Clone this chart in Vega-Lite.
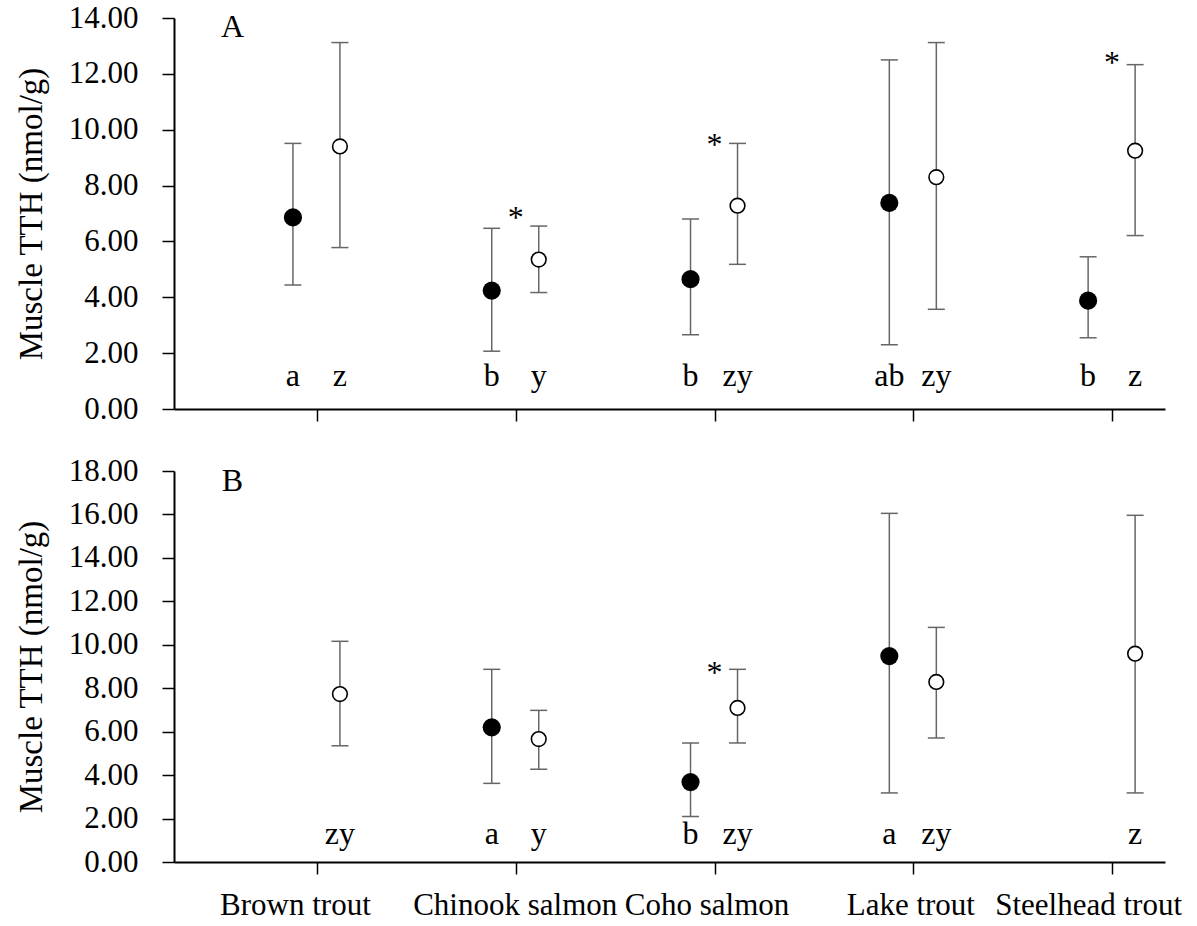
{
  "$schema": "https://vega.github.io/schema/vega-lite/v6.json",
  "padding": {"left": 15, "top": 2, "right": 0, "bottom": 0},
  "spacing": 31,
  "datasets": {
    "pts": [
      {"panel": "A", "species": "Brown trout", "idx": 1, "group": "filled", "mean": 6.86, "lo": 4.44, "hi": 9.51, "letter": "a"},
      {"panel": "A", "species": "Brown trout", "idx": 1, "group": "open", "mean": 9.40, "lo": 5.78, "hi": 13.12, "letter": "z"},
      {"panel": "A", "species": "Chinook salmon", "idx": 2, "group": "filled", "mean": 4.24, "lo": 2.07, "hi": 6.47, "letter": "b"},
      {"panel": "A", "species": "Chinook salmon", "idx": 2, "group": "open", "mean": 5.35, "lo": 4.17, "hi": 6.55, "letter": "y"},
      {"panel": "A", "species": "Coho salmon", "idx": 3, "group": "filled", "mean": 4.65, "lo": 2.66, "hi": 6.80, "letter": "b"},
      {"panel": "A", "species": "Coho salmon", "idx": 3, "group": "open", "mean": 7.28, "lo": 5.18, "hi": 9.51, "letter": "zy"},
      {"panel": "A", "species": "Lake trout", "idx": 4, "group": "filled", "mean": 7.38, "lo": 2.30, "hi": 12.50, "letter": "ab"},
      {"panel": "A", "species": "Lake trout", "idx": 4, "group": "open", "mean": 8.30, "lo": 3.57, "hi": 13.12, "letter": "zy"},
      {"panel": "A", "species": "Steelhead trout", "idx": 5, "group": "filled", "mean": 3.88, "lo": 2.55, "hi": 5.45, "letter": "b"},
      {"panel": "A", "species": "Steelhead trout", "idx": 5, "group": "open", "mean": 9.25, "lo": 6.21, "hi": 12.33, "letter": "z"},
      {"panel": "B", "species": "Brown trout", "idx": 1, "group": "open", "mean": 7.73, "lo": 5.35, "hi": 10.16, "letter": "zy"},
      {"panel": "B", "species": "Chinook salmon", "idx": 2, "group": "filled", "mean": 6.20, "lo": 3.62, "hi": 8.87, "letter": "a"},
      {"panel": "B", "species": "Chinook salmon", "idx": 2, "group": "open", "mean": 5.66, "lo": 4.27, "hi": 6.98, "letter": "y"},
      {"panel": "B", "species": "Coho salmon", "idx": 3, "group": "filled", "mean": 3.68, "lo": 2.10, "hi": 5.48, "letter": "b"},
      {"panel": "B", "species": "Coho salmon", "idx": 3, "group": "open", "mean": 7.09, "lo": 5.48, "hi": 8.87, "letter": "zy"},
      {"panel": "B", "species": "Lake trout", "idx": 4, "group": "filled", "mean": 9.48, "lo": 3.18, "hi": 16.05, "letter": "a"},
      {"panel": "B", "species": "Lake trout", "idx": 4, "group": "open", "mean": 8.29, "lo": 5.71, "hi": 10.80, "letter": "zy"},
      {"panel": "B", "species": "Steelhead trout", "idx": 5, "group": "open", "mean": 9.59, "lo": 3.18, "hi": 15.96, "letter": "z"}
    ],
    "stars": [
      {"panel": "A", "idx": 2, "pos": 6.48, "mark": "*"},
      {"panel": "A", "idx": 3, "pos": 9.10, "mark": "*"},
      {"panel": "A", "idx": 5, "pos": 12.03, "mark": "*"},
      {"panel": "B", "idx": 3, "pos": 8.26, "mark": "*"}
    ]
  },
  "vconcat": [
    {
      "width": 991,
      "height": 391,
      "data": {"name": "pts"},
      "transform": [{"filter": "datum.panel == 'A'"}],
      "encoding": {
        "x": {"field": "idx", "type": "quantitative", "scale": {"domain": [0.281, 5.266], "nice": false, "zero": false},
              "axis": {"values": [1, 2, 3, 4, 5], "labels": false, "title": null, "grid": false}},
        "y": {"field": "mean", "type": "quantitative", "scale": {"domain": [0, 14], "nice": false},
              "axis": {"values": [0, 2, 4, 6, 8, 10, 12, 14], "format": ".2f", "title": "Muscle TTH (nmol/g)", "grid": false}}
      },
      "layer": [
        {"transform": [{"filter": "datum.group == 'filled'"}], "mark": {"type": "rule", "color": "#666666", "strokeWidth": 1.5, "xOffset": -24}, "encoding": {"y": {"field": "lo", "type": "quantitative"}, "y2": {"field": "hi"}}},
        {"transform": [{"filter": "datum.group == 'filled'"}], "mark": {"type": "tick", "orient": "horizontal", "size": 17, "thickness": 1.5, "color": "#666666", "opacity": 1, "xOffset": -24}, "encoding": {"y": {"field": "lo", "type": "quantitative"}}},
        {"transform": [{"filter": "datum.group == 'filled'"}], "mark": {"type": "tick", "orient": "horizontal", "size": 17, "thickness": 1.5, "color": "#666666", "opacity": 1, "xOffset": -24}, "encoding": {"y": {"field": "hi", "type": "quantitative"}}},
        {"transform": [{"filter": "datum.group == 'filled'"}], "mark": {"type": "point", "shape": "circle", "filled": true, "size": 330, "color": "black", "opacity": 1, "xOffset": -24}},
        {"transform": [{"filter": "datum.group == 'filled'"}], "mark": {"type": "text", "fontSize": 32, "font": "Liberation Serif", "baseline": "alphabetic", "align": "center", "color": "black", "xOffset": -24}, "encoding": {"y": {"datum": 0.84}, "text": {"field": "letter"}}},
        {"transform": [{"filter": "datum.group == 'open'"}], "mark": {"type": "rule", "color": "#666666", "strokeWidth": 1.5, "xOffset": 23}, "encoding": {"y": {"field": "lo", "type": "quantitative"}, "y2": {"field": "hi"}}},
        {"transform": [{"filter": "datum.group == 'open'"}], "mark": {"type": "tick", "orient": "horizontal", "size": 17, "thickness": 1.5, "color": "#666666", "opacity": 1, "xOffset": 23}, "encoding": {"y": {"field": "lo", "type": "quantitative"}}},
        {"transform": [{"filter": "datum.group == 'open'"}], "mark": {"type": "tick", "orient": "horizontal", "size": 17, "thickness": 1.5, "color": "#666666", "opacity": 1, "xOffset": 23}, "encoding": {"y": {"field": "hi", "type": "quantitative"}}},
        {"transform": [{"filter": "datum.group == 'open'"}], "mark": {"type": "point", "shape": "circle", "filled": true, "fill": "white", "stroke": "black", "strokeWidth": 1.6, "size": 215, "opacity": 1, "xOffset": 23}},
        {"transform": [{"filter": "datum.group == 'open'"}], "mark": {"type": "text", "fontSize": 32, "font": "Liberation Serif", "baseline": "alphabetic", "align": "center", "color": "black", "xOffset": 23}, "encoding": {"y": {"datum": 0.84}, "text": {"field": "letter"}}},
        {"data": {"name": "stars"}, "transform": [{"filter": "datum.panel == 'A'"}], "mark": {"type": "text", "fontSize": 32, "font": "Liberation Serif", "baseline": "alphabetic", "align": "center", "color": "black"}, "encoding": {"y": {"field": "pos", "type": "quantitative"}, "text": {"field": "mark"}}},
        {"data": {"values": [{"label": "A", "lx": 0.575, "ly": 13.32}]}, "mark": {"type": "text", "fontSize": 32, "font": "Liberation Serif", "baseline": "alphabetic", "align": "center", "color": "black"}, "encoding": {"x": {"field": "lx", "type": "quantitative"}, "y": {"field": "ly", "type": "quantitative"}, "text": {"field": "label", "type": "nominal"}}}
      ]
    },
    {
      "width": 991,
      "height": 391,
      "data": {"name": "pts"},
      "transform": [{"filter": "datum.panel == 'B'"}],
      "encoding": {
        "x": {"field": "idx", "type": "quantitative", "scale": {"domain": [0.281, 5.266], "nice": false, "zero": false},
              "axis": {"values": [1, 2, 3, 4, 5], "title": null, "grid": false,
                       "labelExpr": "['', 'Brown trout', 'Chinook salmon', 'Coho salmon', 'Lake trout', 'Steelhead trout'][datum.value]",
                       "labelOffset": {"expr": "[0, -22, -1, -8, -3, -24][datum.value]"}}},
        "y": {"field": "mean", "type": "quantitative", "scale": {"domain": [0, 18], "nice": false},
              "axis": {"values": [0, 2, 4, 6, 8, 10, 12, 14, 16, 18], "format": ".2f", "title": "Muscle TTH (nmol/g)", "grid": false}}
      },
      "layer": [
        {"transform": [{"filter": "datum.group == 'filled'"}], "mark": {"type": "rule", "color": "#666666", "strokeWidth": 1.5, "xOffset": -24}, "encoding": {"y": {"field": "lo", "type": "quantitative"}, "y2": {"field": "hi"}}},
        {"transform": [{"filter": "datum.group == 'filled'"}], "mark": {"type": "tick", "orient": "horizontal", "size": 17, "thickness": 1.5, "color": "#666666", "opacity": 1, "xOffset": -24}, "encoding": {"y": {"field": "lo", "type": "quantitative"}}},
        {"transform": [{"filter": "datum.group == 'filled'"}], "mark": {"type": "tick", "orient": "horizontal", "size": 17, "thickness": 1.5, "color": "#666666", "opacity": 1, "xOffset": -24}, "encoding": {"y": {"field": "hi", "type": "quantitative"}}},
        {"transform": [{"filter": "datum.group == 'filled'"}], "mark": {"type": "point", "shape": "circle", "filled": true, "size": 330, "color": "black", "opacity": 1, "xOffset": -24}},
        {"transform": [{"filter": "datum.group == 'filled'"}], "mark": {"type": "text", "fontSize": 32, "font": "Liberation Serif", "baseline": "alphabetic", "align": "center", "color": "black", "xOffset": -24}, "encoding": {"y": {"datum": 0.84}, "text": {"field": "letter"}}},
        {"transform": [{"filter": "datum.group == 'open'"}], "mark": {"type": "rule", "color": "#666666", "strokeWidth": 1.5, "xOffset": 23}, "encoding": {"y": {"field": "lo", "type": "quantitative"}, "y2": {"field": "hi"}}},
        {"transform": [{"filter": "datum.group == 'open'"}], "mark": {"type": "tick", "orient": "horizontal", "size": 17, "thickness": 1.5, "color": "#666666", "opacity": 1, "xOffset": 23}, "encoding": {"y": {"field": "lo", "type": "quantitative"}}},
        {"transform": [{"filter": "datum.group == 'open'"}], "mark": {"type": "tick", "orient": "horizontal", "size": 17, "thickness": 1.5, "color": "#666666", "opacity": 1, "xOffset": 23}, "encoding": {"y": {"field": "hi", "type": "quantitative"}}},
        {"transform": [{"filter": "datum.group == 'open'"}], "mark": {"type": "point", "shape": "circle", "filled": true, "fill": "white", "stroke": "black", "strokeWidth": 1.6, "size": 215, "opacity": 1, "xOffset": 23}},
        {"transform": [{"filter": "datum.group == 'open'"}], "mark": {"type": "text", "fontSize": 32, "font": "Liberation Serif", "baseline": "alphabetic", "align": "center", "color": "black", "xOffset": 23}, "encoding": {"y": {"datum": 0.84}, "text": {"field": "letter"}}},
        {"data": {"name": "stars"}, "transform": [{"filter": "datum.panel == 'B'"}], "mark": {"type": "text", "fontSize": 32, "font": "Liberation Serif", "baseline": "alphabetic", "align": "center", "color": "black"}, "encoding": {"y": {"field": "pos", "type": "quantitative"}, "text": {"field": "mark"}}},
        {"data": {"values": [{"label": "B", "lx": 0.575, "ly": 17.06}]}, "mark": {"type": "text", "fontSize": 32, "font": "Liberation Serif", "baseline": "alphabetic", "align": "center", "color": "black"}, "encoding": {"x": {"field": "lx", "type": "quantitative"}, "y": {"field": "ly", "type": "quantitative"}, "text": {"field": "label", "type": "nominal"}}}
      ]
    }
  ],
  "config": {
    "view": {"stroke": null},
    "font": "Liberation Serif",
    "axis": {
      "domainColor": "black", "domainWidth": 2,
      "tickColor": "black", "tickWidth": 1.5, "tickSize": 12,
      "labelFont": "Liberation Serif", "labelFontSize": 31, "labelColor": "black", "labelLimit": 0,
      "titleFont": "Liberation Serif", "titleFontSize": 33, "titleFontWeight": "normal", "titleColor": "black",
      "labelOverlap": false, "labelFlush": false, "labelBound": false
    },
    "axisY": {"labelPadding": 24, "titlePadding": 20},
    "axisX": {"labelPadding": 16}
  }
}
